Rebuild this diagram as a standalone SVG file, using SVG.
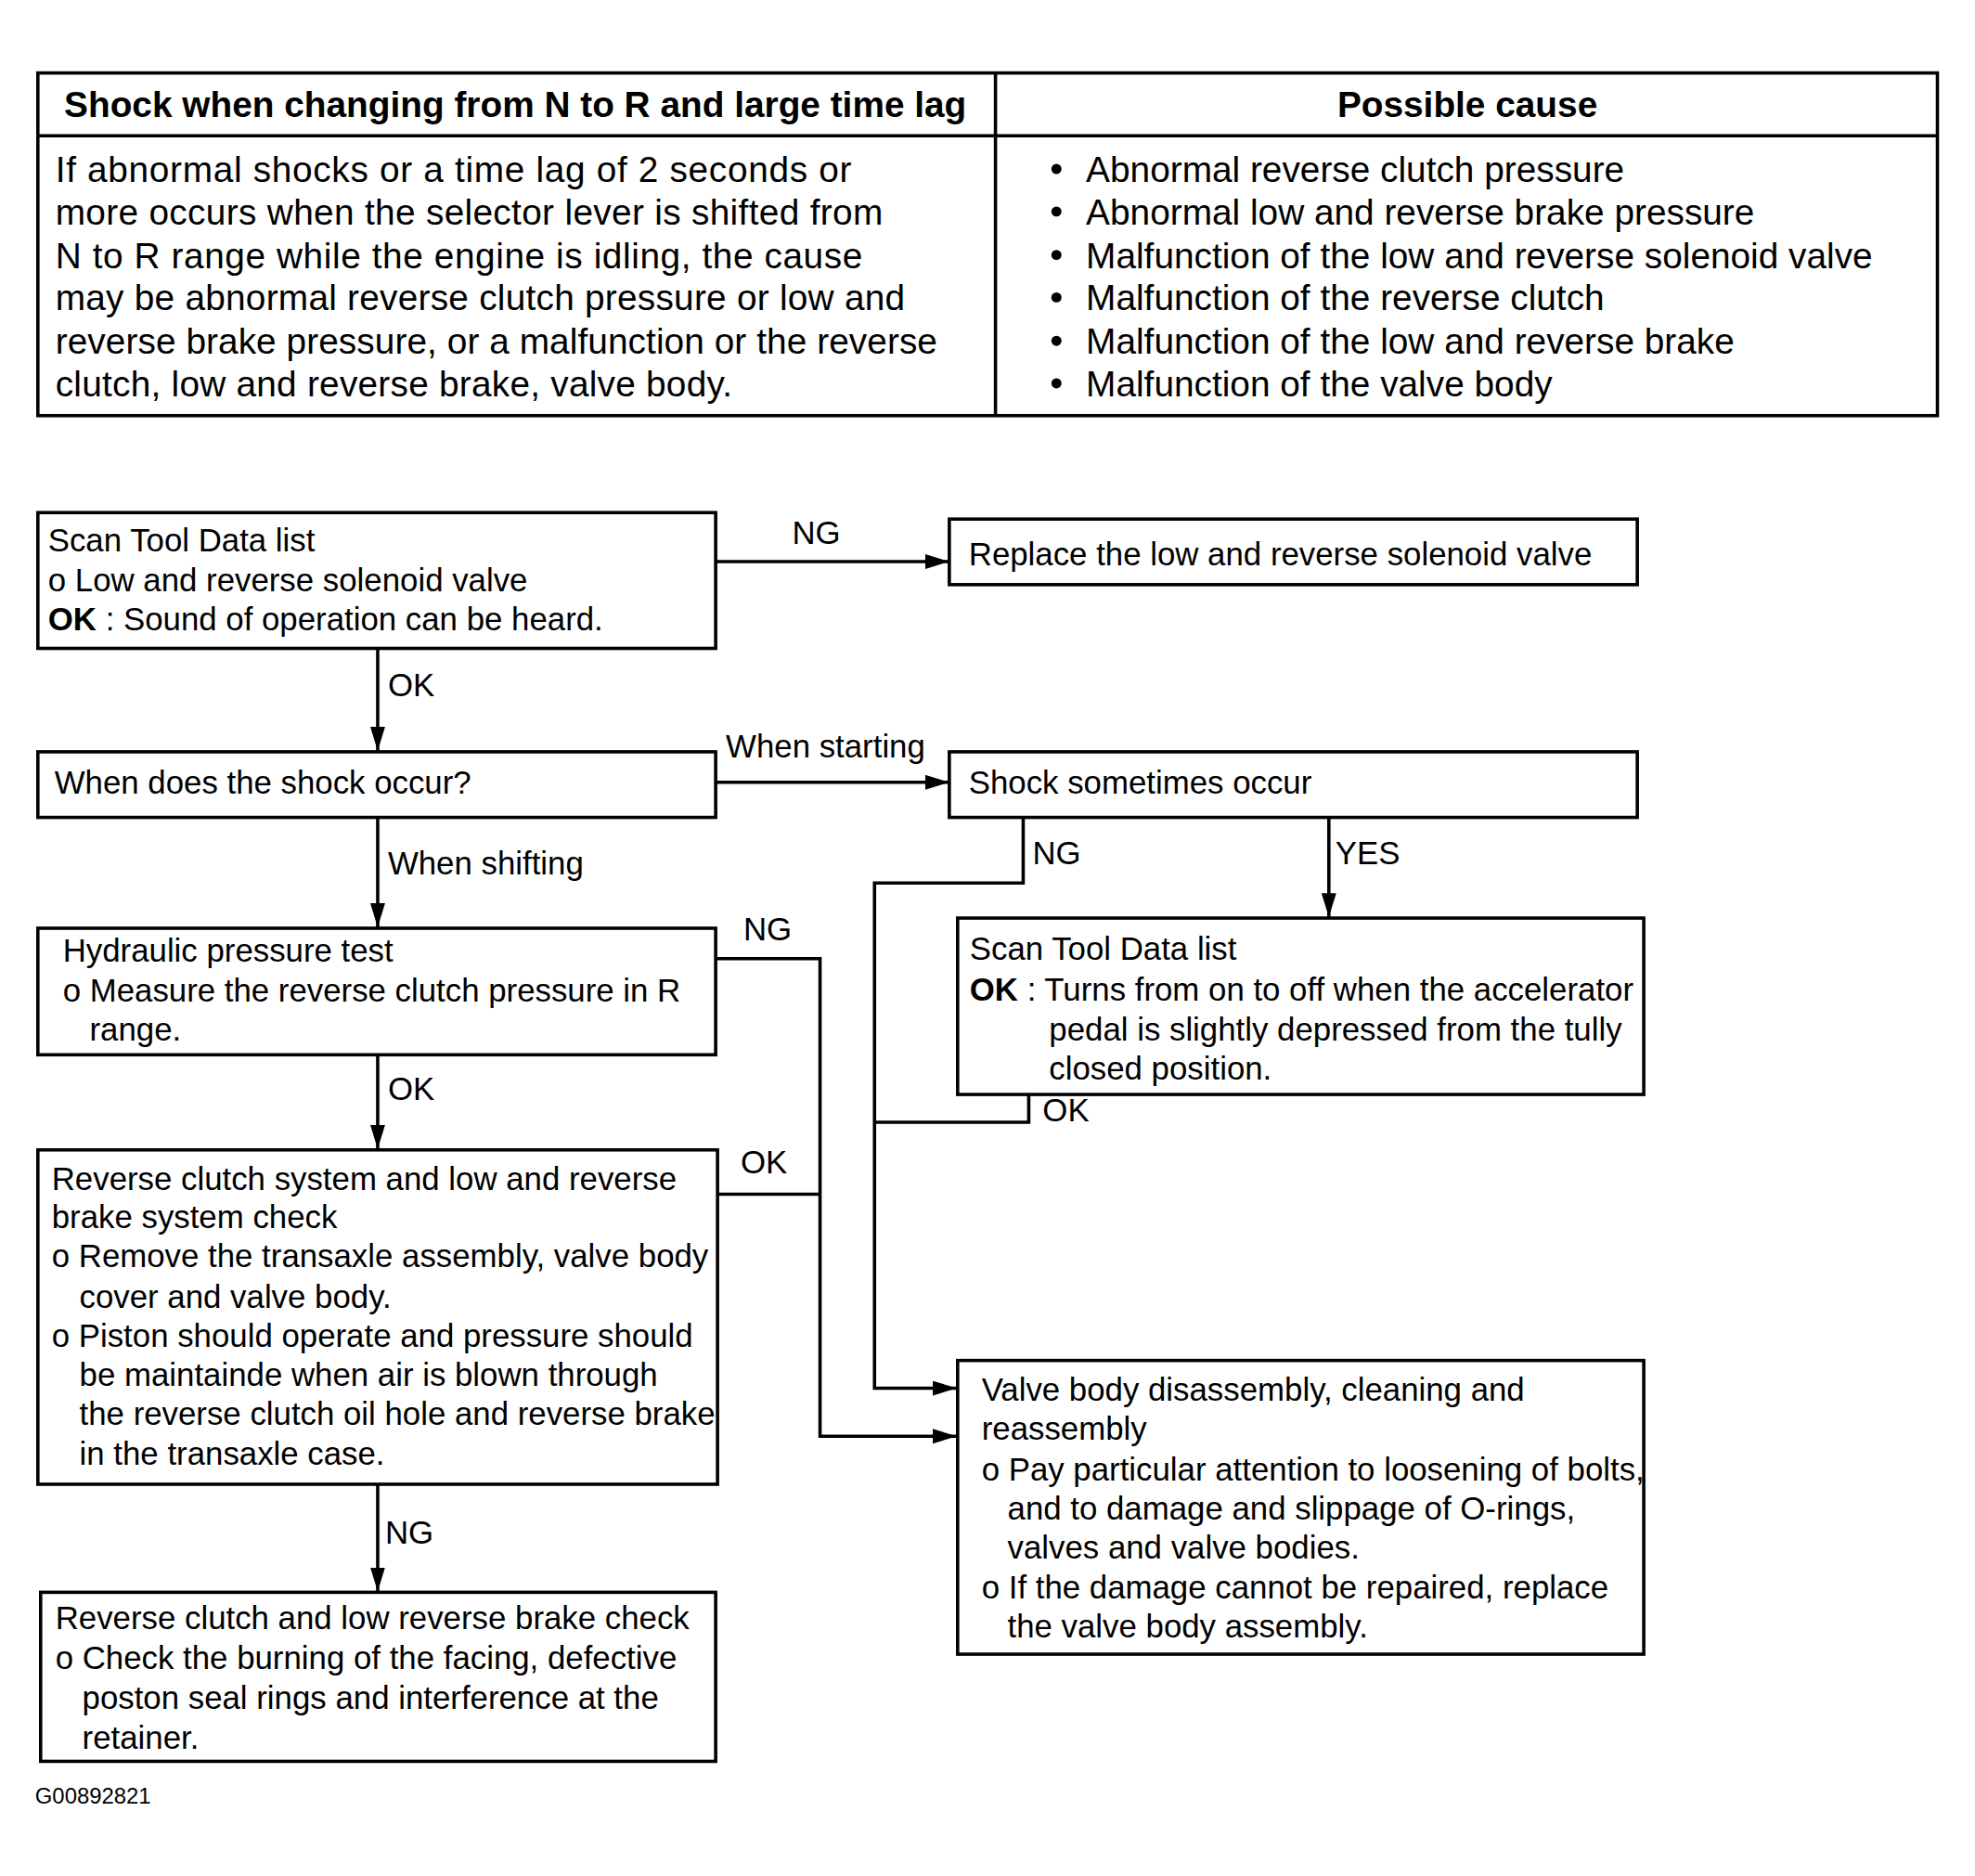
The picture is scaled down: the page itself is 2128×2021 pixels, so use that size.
<svg xmlns="http://www.w3.org/2000/svg" width="2128" height="2021" viewBox="0 0 2128 2021">
<style>
text{font-family:"Liberation Sans",Arial,sans-serif;fill:#000}
.t{font-size:39px}
.h{font-size:39px;font-weight:bold}
.f{font-size:35px}
.s{font-size:24px}
.b{font-weight:bold}
.box{fill:#fff;stroke:#000;stroke-width:3.6}
.ln{fill:none;stroke:#000;stroke-width:3.6}
</style>
<defs>
<marker id="ah" markerUnits="userSpaceOnUse" markerWidth="28" markerHeight="18" refX="26" refY="8" orient="auto">
<path d="M0,0 L26,8 L0,16 z" fill="#000"/>
</marker>
</defs>
<rect width="2128" height="2021" fill="#fff"/>
<g transform="scale(0.995)">
<g id="table">
<rect class="box" x="41" y="79" width="2057" height="371"/>
<line class="ln" x1="41" y1="147" x2="2098" y2="147"/>
<line class="ln" x1="1078" y1="79" x2="1078" y2="450"/>
<text class="h" x="558" y="127" text-anchor="middle">Shock when changing from N to R and large time lag</text>
<text class="h" x="1589" y="127" text-anchor="middle">Possible cause</text>
<text class="t" x="60" y="197" textLength="862">If abnormal shocks or a time lag of 2 seconds or</text>
<text class="t" x="60" y="243" textLength="896">more occurs when the selector lever is shifted from</text>
<text class="t" x="60" y="290" textLength="874">N to R range while the engine is idling, the cause</text>
<text class="t" x="60" y="336" textLength="920">may be abnormal reverse clutch pressure or low and</text>
<text class="t" x="60" y="383" textLength="955">reverse brake pressure, or a malfunction or the reverse</text>
<text class="t" x="60" y="429" textLength="733">clutch, low and reverse brake, valve body.</text>
<g>
<circle cx="1144" cy="183" r="5.5"/>
<circle cx="1144" cy="229" r="5.5"/>
<circle cx="1144" cy="276" r="5.5"/>
<circle cx="1144" cy="322" r="5.5"/>
<circle cx="1144" cy="369" r="5.5"/>
<circle cx="1144" cy="415" r="5.5"/>
</g>
<text class="t" x="1176" y="197">Abnormal reverse clutch pressure</text>
<text class="t" x="1176" y="243">Abnormal low and reverse brake pressure</text>
<text class="t" x="1176" y="290">Malfunction of the low and reverse solenoid valve</text>
<text class="t" x="1176" y="336">Malfunction of the reverse clutch</text>
<text class="t" x="1176" y="383">Malfunction of the low and reverse brake</text>
<text class="t" x="1176" y="429">Malfunction of the valve body</text>
</g>

<g id="connectors">
<line class="ln" x1="775" y1="608" x2="1028" y2="608" marker-end="url(#ah)"/>
<line class="ln" x1="409" y1="702" x2="409" y2="813" marker-end="url(#ah)"/>
<line class="ln" x1="775" y1="847" x2="1028" y2="847" marker-end="url(#ah)"/>
<line class="ln" x1="409" y1="885" x2="409" y2="1004" marker-end="url(#ah)"/>
<line class="ln" x1="409" y1="1142" x2="409" y2="1244" marker-end="url(#ah)"/>
<line class="ln" x1="409" y1="1607" x2="409" y2="1723" marker-end="url(#ah)"/>
<polyline class="ln" points="775,1038 888,1038 888,1555 1036,1555" marker-end="url(#ah)"/>
<line class="ln" x1="777" y1="1293" x2="888" y2="1293"/>
<polyline class="ln" points="1108,885 1108,956 947,956 947,1503 1036,1503" marker-end="url(#ah)"/>
<line class="ln" x1="1439" y1="885" x2="1439" y2="993" marker-end="url(#ah)"/>
<polyline class="ln" points="1114,1185 1114,1215 947,1215"/>
<text class="f" x="884" y="589" text-anchor="middle">NG</text>
<text class="f" x="420" y="754">OK</text>
<text class="f" x="786" y="820">When starting</text>
<text class="f" x="420" y="947">When shifting</text>
<text class="f" x="805" y="1018">NG</text>
<text class="f" x="420" y="1191">OK</text>
<text class="f" x="802" y="1270">OK</text>
<text class="f" x="417" y="1671">NG</text>
<text class="f" x="1118" y="936">NG</text>
<text class="f" x="1446" y="936">YES</text>
<text class="f" x="1129" y="1214">OK</text>
</g>

<g id="nodeA">
<rect class="box" x="41" y="555" width="734" height="147"/>
<text class="f" x="52" y="597">Scan Tool Data list</text>
<text class="f" x="52" y="640">o Low and reverse solenoid valve</text>
<text class="f" x="52" y="682"><tspan class="b">OK</tspan> : Sound of operation can be heard.</text>
</g>
<g id="nodeB">
<rect class="box" x="1028" y="562" width="745" height="71"/>
<text class="f" x="1049" y="612">Replace the low and reverse solenoid valve</text>
</g>
<g id="nodeC">
<rect class="box" x="41" y="814" width="734" height="71"/>
<text class="f" x="59" y="859">When does the shock occur?</text>
</g>
<g id="nodeD">
<rect class="box" x="1028" y="814" width="745" height="71"/>
<text class="f" x="1049" y="859">Shock sometimes occur</text>
</g>
<g id="nodeE">
<rect class="box" x="41" y="1005" width="734" height="137"/>
<text class="f" x="68" y="1041">Hydraulic pressure test</text>
<text class="f" x="68" y="1084">o Measure the reverse clutch pressure in R</text>
<text class="f" x="97" y="1127">range.</text>
</g>
<g id="nodeF">
<rect class="box" x="41" y="1245" width="736" height="362"/>
<text class="f" x="56" y="1288">Reverse clutch system and low and reverse</text>
<text class="f" x="56" y="1330">brake system check</text>
<text class="f" x="56" y="1372">o Remove the transaxle assembly, valve body</text>
<text class="f" x="86" y="1416">cover and valve body.</text>
<text class="f" x="56" y="1458">o Piston should operate and pressure should</text>
<text class="f" x="86" y="1500">be maintainde when air is blown through</text>
<text class="f" x="86" y="1543">the reverse clutch oil hole and reverse brake</text>
<text class="f" x="86" y="1586">in the transaxle case.</text>
</g>
<g id="nodeH">
<rect class="box" x="44" y="1724" width="731" height="183"/>
<text class="f" x="60" y="1764">Reverse clutch and low reverse brake check</text>
<text class="f" x="60" y="1807">o Check the burning of the facing, defective</text>
<text class="f" x="89" y="1850">poston seal rings and interference at the</text>
<text class="f" x="89" y="1893">retainer.</text>
</g>
<g id="nodeI">
<rect class="box" x="1037" y="994" width="743" height="191"/>
<text class="f" x="1050" y="1039">Scan Tool Data list</text>
<text class="f" x="1050" y="1083"><tspan class="b">OK</tspan> : Turns from on to off when the accelerator</text>
<text class="f" x="1136" y="1127">pedal is slightly depressed from the tully</text>
<text class="f" x="1136" y="1169">closed position.</text>
</g>
<g id="nodeG">
<rect class="box" x="1037" y="1473" width="743" height="318"/>
<text class="f" x="1063" y="1517">Valve body disassembly, cleaning and</text>
<text class="f" x="1063" y="1559">reassembly</text>
<text class="f" x="1063" y="1603">o Pay particular attention to loosening of bolts,</text>
<text class="f" x="1091" y="1645">and to damage and slippage of O-rings,</text>
<text class="f" x="1091" y="1687">valves and valve bodies.</text>
<text class="f" x="1063" y="1731">o If the damage cannot be repaired, replace</text>
<text class="f" x="1091" y="1773">the valve body assembly.</text>
</g>
<text class="s" x="38" y="1953">G00892821</text>
</g>
</svg>
